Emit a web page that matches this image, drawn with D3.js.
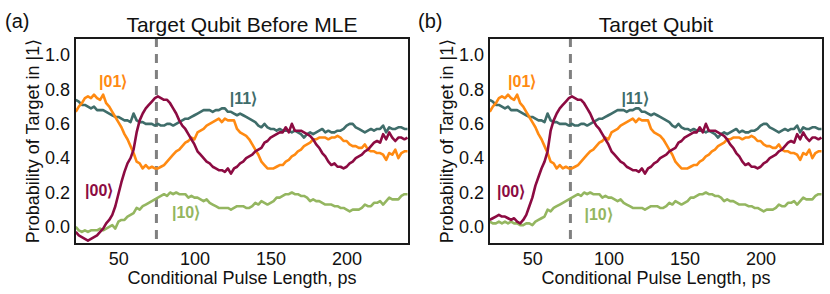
<!DOCTYPE html>
<html>
<head>
<meta charset="utf-8">
<script src="https://cdn.jsdelivr.net/npm/d3@7"></script>
<style>
  body { margin: 0; background: #fff; }
  svg text { font-family: "Liberation Sans", Arial, sans-serif; }
</style>
</head>
<body>
<div id="chart"></div>
<script>
// pulse lengths (ps) at which every curve is sampled
const pulseLength = [22,24,26,28,30,32,34,36,38,40,42,44,46,48,50,52,54,56,58,60,62,64,66,68,70,72,74,76,
  78,80,82,84,86,88,90,92,94,96,98,100,102,104,106,108,110,112,114,116,118,120,122,124,126,128,130,
  132,134,136,138,140,142,144,146,148,150,152,154,156,158,160,162,164,166,168,170,172,174,176,178,180,182,184,186,188,
  190,192,194,196,198,200,202,204,206,208,210,212,214,216,218,220,222,224,226,228,230,232,234,236,238,240];

// |01> control state
const p01 = [0.67,0.70,0.72,0.75,0.76,0.75,0.77,0.75,0.74,0.77,0.72,0.70,0.67,0.64,0.61,0.58,0.54,0.51,0.47,0.43,0.38,0.37,0.34,0.36,0.34,0.35,0.34,0.34,
  0.35,0.36,0.38,0.40,0.42,0.44,0.45,0.47,0.49,0.50,0.52,0.51,0.55,0.56,0.57,0.59,0.60,0.61,0.62,0.63,0.61,0.63,0.62,0.62,0.62,0.57,0.55,
  0.54,0.53,0.51,0.48,0.45,0.42,0.38,0.36,0.34,0.34,0.34,0.35,0.36,0.36,0.38,0.39,0.41,0.42,0.44,0.45,0.47,0.48,0.49,0.51,0.51,0.52,0.52,0.52,0.51,
  0.52,0.52,0.53,0.52,0.50,0.50,0.48,0.47,0.47,0.46,0.46,0.48,0.45,0.44,0.44,0.43,0.43,0.42,0.39,0.43,0.42,0.45,0.40,0.43,0.44,0.44];

// |11>
const p11 = [0.74,0.73,0.71,0.71,0.70,0.69,0.70,0.68,0.68,0.68,0.67,0.66,0.65,0.64,0.64,0.63,0.62,0.62,0.61,0.66,0.62,0.61,0.61,0.60,0.60,0.60,0.59,0.60,
  0.59,0.59,0.60,0.60,0.59,0.60,0.61,0.62,0.63,0.63,0.64,0.65,0.66,0.67,0.68,0.68,0.68,0.67,0.68,0.68,0.69,0.69,0.67,0.67,0.66,0.65,0.66,
  0.65,0.64,0.63,0.62,0.61,0.59,0.58,0.60,0.58,0.57,0.57,0.56,0.57,0.56,0.56,0.56,0.55,0.56,0.55,0.54,0.52,0.54,0.55,0.54,0.55,0.56,0.57,0.55,0.56,
  0.55,0.55,0.56,0.56,0.57,0.59,0.60,0.60,0.58,0.57,0.56,0.55,0.56,0.57,0.56,0.57,0.57,0.59,0.55,0.58,0.57,0.57,0.58,0.58,0.57,0.57];

// |00>, before MLE
const p00raw = [-0.03,-0.05,-0.06,-0.07,-0.08,-0.07,-0.06,-0.05,-0.03,-0.01,0.02,0.04,0.07,0.12,0.19,0.26,0.32,0.37,0.40,0.45,0.55,0.62,0.66,0.69,0.71,0.73,0.75,0.76,
  0.75,0.74,0.74,0.72,0.69,0.66,0.62,0.59,0.57,0.54,0.51,0.48,0.44,0.42,0.40,0.38,0.37,0.35,0.34,0.33,0.33,0.32,0.34,0.31,0.34,0.35,0.37,
  0.38,0.40,0.41,0.42,0.44,0.45,0.46,0.49,0.50,0.52,0.53,0.54,0.55,0.55,0.58,0.55,0.60,0.56,0.56,0.56,0.55,0.54,0.53,0.51,0.48,0.46,0.43,0.41,0.38,
  0.36,0.37,0.35,0.35,0.34,0.35,0.37,0.38,0.40,0.41,0.42,0.44,0.45,0.47,0.49,0.50,0.49,0.54,0.51,0.55,0.52,0.50,0.52,0.52,0.51,0.52];

// |10>, before MLE
const p10raw = [0.00,-0.02,-0.03,-0.02,-0.03,-0.02,-0.02,-0.02,-0.01,-0.02,-0.01,0.00,0.01,-0.01,0.03,0.04,0.04,0.06,0.07,0.08,0.11,0.10,0.12,0.13,0.14,0.15,0.16,0.17,
  0.18,0.19,0.18,0.20,0.19,0.20,0.19,0.19,0.19,0.17,0.18,0.17,0.17,0.16,0.15,0.16,0.14,0.13,0.12,0.11,0.11,0.11,0.11,0.10,0.11,0.12,0.12,
  0.12,0.11,0.11,0.12,0.14,0.13,0.15,0.14,0.13,0.14,0.15,0.17,0.17,0.18,0.19,0.19,0.20,0.19,0.19,0.18,0.18,0.17,0.15,0.16,0.15,0.15,0.14,0.13,0.13,
  0.13,0.12,0.12,0.11,0.11,0.10,0.09,0.10,0.10,0.10,0.11,0.13,0.12,0.12,0.14,0.14,0.15,0.13,0.15,0.17,0.16,0.16,0.16,0.18,0.19,0.19];

// |00>, after MLE
const p00mle = [0.04,0.05,0.06,0.07,0.06,0.06,0.05,0.04,0.05,0.03,0.02,0.04,0.07,0.12,0.17,0.24,0.29,0.34,0.38,0.44,0.56,0.62,0.66,0.69,0.71,0.73,0.75,0.76,
  0.75,0.74,0.74,0.72,0.69,0.66,0.62,0.59,0.57,0.54,0.51,0.48,0.44,0.42,0.40,0.38,0.37,0.35,0.34,0.33,0.33,0.32,0.34,0.31,0.34,0.35,0.37,
  0.38,0.40,0.41,0.42,0.44,0.45,0.46,0.49,0.50,0.52,0.53,0.54,0.55,0.55,0.58,0.55,0.60,0.56,0.56,0.56,0.55,0.54,0.53,0.51,0.48,0.46,0.43,0.41,0.38,
  0.36,0.37,0.35,0.35,0.34,0.35,0.37,0.38,0.40,0.41,0.42,0.44,0.45,0.47,0.49,0.50,0.49,0.54,0.51,0.55,0.52,0.50,0.52,0.52,0.51,0.52];

// |10>, after MLE
const p10mle = [0.03,0.02,0.02,0.03,0.02,0.03,0.02,0.03,0.02,0.02,0.01,0.01,0.02,0.02,0.01,0.03,0.04,0.05,0.06,0.10,0.09,0.11,0.12,0.13,0.14,0.15,0.16,0.17,
  0.18,0.19,0.18,0.20,0.19,0.20,0.19,0.19,0.19,0.17,0.18,0.17,0.17,0.16,0.15,0.16,0.14,0.13,0.12,0.11,0.11,0.11,0.11,0.10,0.11,0.12,0.12,
  0.12,0.11,0.11,0.12,0.14,0.13,0.15,0.14,0.13,0.14,0.15,0.17,0.17,0.18,0.19,0.19,0.20,0.19,0.19,0.18,0.18,0.17,0.15,0.16,0.15,0.15,0.14,0.13,0.13,
  0.13,0.12,0.12,0.11,0.11,0.10,0.09,0.10,0.10,0.10,0.11,0.13,0.12,0.12,0.14,0.14,0.15,0.13,0.15,0.17,0.16,0.16,0.16,0.18,0.19,0.19];

const xTicks = [50, 100, 150, 200];
const yTicks = [0.0, 0.2, 0.4, 0.6, 0.8, 1.0];
const markerPulse = 75;

const colors = { "00": "#8c0b42", "01": "#ff8a12", "10": "#94b660", "11": "#3f6d6a" };

const panels = [
  { tag: "(a)", title: "Target Qubit Before MLE", left: 75,
    series: { "00": p00raw, "01": p01, "10": p10raw, "11": p11 },
    labels: { "01": [46.6, 0.85], "11": [132.2, 0.75], "00": [37.4, 0.215], "10": [94.5, 0.085] } },
  { tag: "(b)", title: "Target Qubit", left: 489,
    series: { "00": p00mle, "01": p01, "10": p10mle, "11": p11 },
    labels: { "01": [43.3, 0.85], "11": [117.5, 0.75], "00": [36, 0.205], "10": [93.5, 0.07] } }
];

const W = 830, H = 294;
const marginTop = 38, plotW = 334, plotH = 206;

const svg = d3.select("#chart").append("svg")
  .attr("width", W).attr("height", H);

const x = d3.scaleLinear().domain([21.5, 241]).range([0, plotW]);
const y = d3.scaleLinear().domain([-0.1, 1.1]).range([plotH, 0]);

panels.forEach((p, i) => {
  const g = svg.append("g").attr("transform", `translate(${p.left},${marginTop})`);

  g.append("clipPath").attr("id", "clip" + i)
    .append("rect").attr("width", plotW).attr("height", plotH);

  // axes
  g.append("g")
    .attr("transform", `translate(0,${plotH})`)
    .call(d3.axisBottom(x).tickValues(xTicks).tickSize(0).tickPadding(8))
    .call(a => a.select(".domain").remove())
    .selectAll("text").attr("font-size", 18).attr("fill", "#111");

  g.append("g")
    .call(d3.axisLeft(y).tickValues(yTicks).tickFormat(d3.format(".1f")).tickSize(0).tickPadding(5))
    .call(a => a.select(".domain").remove())
    .selectAll("text").attr("font-size", 18).attr("fill", "#111");

  // dashed marker
  g.append("line")
    .attr("x1", x(markerPulse)).attr("x2", x(markerPulse))
    .attr("y1", 0).attr("y2", plotH)
    .attr("stroke", "#808080").attr("stroke-width", 3)
    .attr("stroke-dasharray", "9,7");

  const line = d3.line()
    .x((d, k) => x(pulseLength[k]))
    .y(d => y(d));

  const plot = g.append("g").attr("clip-path", `url(#clip${i})`);
  ["11", "01", "10", "00"].forEach(key => {
    plot.append("path")
      .datum(p.series[key])
      .attr("fill", "none")
      .attr("stroke", colors[key])
      .attr("stroke-width", 2.6)
      .attr("stroke-linejoin", "round")
      .attr("d", line);
  });

  // state labels
  Object.keys(p.labels).forEach(key => {
    const [lx, ly] = p.labels[key];
    g.append("text")
      .attr("x", x(lx)).attr("y", y(ly))
      .attr("dy", "0.35em")
      .attr("text-anchor", "middle")
      .attr("font-size", 16).attr("font-weight", "bold")
      .attr("fill", colors[key])
      .text("|" + key + "\u27E9");
  });

  // frame
  g.append("rect")
    .attr("width", plotW).attr("height", plotH)
    .attr("fill", "none").attr("stroke", "#1a1a1a").attr("stroke-width", 2);

  // titles
  g.append("text")
    .attr("x", plotW / 2).attr("y", -6)
    .attr("text-anchor", "middle").attr("font-size", 21).attr("fill", "#111")
    .text(p.title);

  g.append("text")
    .attr("x", (i === 0 ? 5 : 418) - p.left).attr("y", -10)
    .attr("font-size", 20).attr("fill", "#111")
    .text(p.tag);

  g.append("text")
    .attr("x", plotW / 2).attr("y", plotH + 40)
    .attr("text-anchor", "middle").attr("font-size", 18).attr("fill", "#111")
    .text("Conditional Pulse Length, ps");

  g.append("text")
    .attr("transform", `translate(-36,${plotH / 2}) rotate(-90)`)
    .attr("text-anchor", "middle").attr("font-size", 18).attr("fill", "#111")
    .text("Probability of Target in |1\u27E9");
});
</script>
</body>
</html>
